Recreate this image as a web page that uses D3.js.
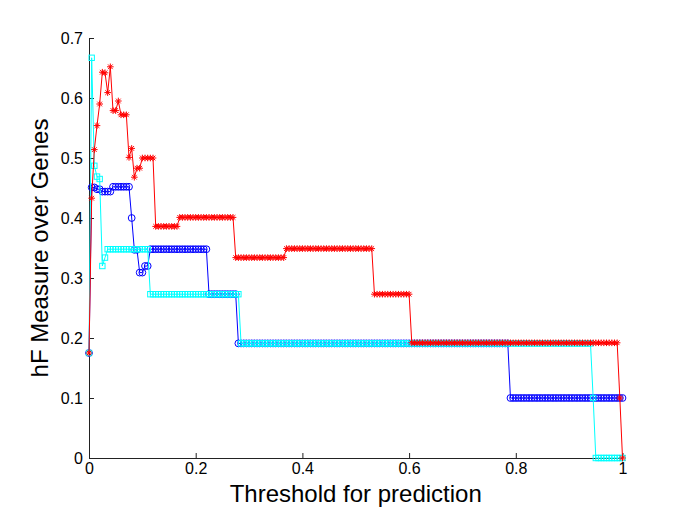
<!DOCTYPE html>
<html>
<head>
<meta charset="utf-8">
<script src="https://cdn.jsdelivr.net/npm/d3@7"></script>
<style>
  html, body { margin: 0; padding: 0; background: #fff; }
  svg { display: block; font-family: "Liberation Sans", Arial, Helvetica, sans-serif; }
</style>
</head>
<body>
<svg id="chart" width="685" height="514"></svg>
<script>
// ---- Data ----
const thresholds = [
  0,0.005,0.01,0.015,0.02,0.025,0.03,0.035,0.04,0.045,
  0.05,0.055,0.06,0.065,0.07,0.075,0.08,0.085,0.09,0.095,
  0.1,0.105,0.11,0.115,0.12,0.125,0.13,0.135,0.14,0.145,
  0.15,0.155,0.16,0.165,0.17,0.175,0.18,0.185,0.19,0.195,
  0.2,0.205,0.21,0.215,0.22,0.225,0.23,0.235,0.24,0.245,
  0.25,0.255,0.26,0.265,0.27,0.275,0.28,0.285,0.29,0.295,
  0.3,0.305,0.31,0.315,0.32,0.325,0.33,0.335,0.34,0.345,
  0.35,0.355,0.36,0.365,0.37,0.375,0.38,0.385,0.39,0.395,
  0.4,0.405,0.41,0.415,0.42,0.425,0.43,0.435,0.44,0.445,
  0.45,0.455,0.46,0.465,0.47,0.475,0.48,0.485,0.49,0.495,
  0.5,0.505,0.51,0.515,0.52,0.525,0.53,0.535,0.54,0.545,
  0.55,0.555,0.56,0.565,0.57,0.575,0.58,0.585,0.59,0.595,
  0.6,0.605,0.61,0.615,0.62,0.625,0.63,0.635,0.64,0.645,
  0.65,0.655,0.66,0.665,0.67,0.675,0.68,0.685,0.69,0.695,
  0.7,0.705,0.71,0.715,0.72,0.725,0.73,0.735,0.74,0.745,
  0.75,0.755,0.76,0.765,0.77,0.775,0.78,0.785,0.79,0.795,
  0.8,0.805,0.81,0.815,0.82,0.825,0.83,0.835,0.84,0.845,
  0.85,0.855,0.86,0.865,0.87,0.875,0.88,0.885,0.89,0.895,
  0.9,0.905,0.91,0.915,0.92,0.925,0.93,0.935,0.94,0.945,
  0.95,0.955,0.96,0.965,0.97,0.975,0.98,0.985,0.99,0.995,
  1
];

// red stars
const redValues = [
  0.175,0.433,0.514,0.554,0.590,0.643,0.642,0.609,0.652,0.579,
  0.579,0.595,0.572,0.572,0.572,0.501,0.516,0.468,0.483,0.483,
  0.500,0.500,0.500,0.500,0.500,0.386,0.386,0.386,0.386,0.386,
  0.386,0.386,0.386,0.386,0.401,0.401,0.401,0.401,0.401,0.401,
  0.401,0.401,0.401,0.401,0.401,0.401,0.401,0.401,0.401,0.401,
  0.401,0.401,0.401,0.401,0.401,0.334,0.334,0.334,0.334,0.334,
  0.334,0.334,0.334,0.334,0.334,0.334,0.334,0.334,0.334,0.334,
  0.334,0.334,0.334,0.334,0.349,0.349,0.349,0.349,0.349,0.349,
  0.349,0.349,0.349,0.349,0.349,0.349,0.349,0.349,0.349,0.349,
  0.349,0.349,0.349,0.349,0.349,0.349,0.349,0.349,0.349,0.349,
  0.349,0.349,0.349,0.349,0.349,0.349,0.349,0.273,0.273,0.273,
  0.273,0.273,0.273,0.273,0.273,0.273,0.273,0.273,0.273,0.273,
  0.273,0.192,0.192,0.192,0.192,0.192,0.192,0.192,0.192,0.192,
  0.192,0.192,0.192,0.192,0.192,0.192,0.192,0.192,0.192,0.192,
  0.192,0.192,0.192,0.192,0.192,0.192,0.192,0.192,0.192,0.192,
  0.192,0.192,0.192,0.192,0.192,0.192,0.192,0.192,0.192,0.192,
  0.192,0.192,0.192,0.192,0.192,0.192,0.192,0.192,0.192,0.192,
  0.192,0.192,0.192,0.192,0.192,0.192,0.192,0.192,0.192,0.192,
  0.192,0.192,0.192,0.192,0.192,0.192,0.192,0.192,0.192,0.192,
  0.192,0.192,0.192,0.192,0.192,0.192,0.192,0.192,0.192,0.100,
  0.000
];

// blue circles
const blueValues = [
  0.175,0.451,0.451,0.448,0.448,0.444,0.444,0.444,0.444,0.452,
  0.452,0.452,0.452,0.452,0.452,0.452,0.400,0.347,0.347,0.309,
  0.309,0.320,0.320,0.348,0.348,0.348,0.348,0.348,0.348,0.348,
  0.348,0.348,0.348,0.348,0.348,0.348,0.348,0.348,0.348,0.348,
  0.348,0.348,0.348,0.348,0.348,0.273,0.273,0.273,0.273,0.273,
  0.273,0.273,0.273,0.273,0.273,0.273,0.191,0.191,0.191,0.191,
  0.191,0.191,0.191,0.191,0.191,0.191,0.191,0.191,0.191,0.191,
  0.191,0.191,0.191,0.191,0.191,0.191,0.191,0.191,0.191,0.191,
  0.191,0.191,0.191,0.191,0.191,0.191,0.191,0.191,0.191,0.191,
  0.191,0.191,0.191,0.191,0.191,0.191,0.191,0.191,0.191,0.191,
  0.191,0.191,0.191,0.191,0.191,0.191,0.191,0.191,0.191,0.191,
  0.191,0.191,0.191,0.191,0.191,0.191,0.191,0.191,0.191,0.191,
  0.191,0.191,0.191,0.191,0.191,0.191,0.191,0.191,0.191,0.191,
  0.191,0.191,0.191,0.191,0.191,0.191,0.191,0.191,0.191,0.191,
  0.191,0.191,0.191,0.191,0.191,0.191,0.191,0.191,0.191,0.191,
  0.191,0.191,0.191,0.191,0.191,0.191,0.191,0.191,0.100,0.100,
  0.100,0.100,0.100,0.100,0.100,0.100,0.100,0.100,0.100,0.100,
  0.100,0.100,0.100,0.100,0.100,0.100,0.100,0.100,0.100,0.100,
  0.100,0.100,0.100,0.100,0.100,0.100,0.100,0.100,0.100,0.100,
  0.100,0.100,0.100,0.100,0.100,0.100,0.100,0.100,0.100,0.100,
  0.100
];

// cyan squares
const cyanValues = [
  0.175,0.667,0.487,0.469,0.465,0.320,0.334,0.348,0.348,0.348,
  0.348,0.348,0.348,0.348,0.348,0.348,0.348,0.348,0.348,0.348,
  0.348,0.348,0.348,0.273,0.273,0.273,0.273,0.273,0.273,0.273,
  0.273,0.273,0.273,0.273,0.273,0.273,0.273,0.273,0.273,0.273,
  0.273,0.273,0.273,0.273,0.273,0.273,0.273,0.273,0.273,0.273,
  0.273,0.273,0.273,0.273,0.273,0.273,0.273,0.191,0.191,0.191,
  0.191,0.191,0.191,0.191,0.191,0.191,0.191,0.191,0.191,0.191,
  0.191,0.191,0.191,0.191,0.191,0.191,0.191,0.191,0.191,0.191,
  0.191,0.191,0.191,0.191,0.191,0.191,0.191,0.191,0.191,0.191,
  0.191,0.191,0.191,0.191,0.191,0.191,0.191,0.191,0.191,0.191,
  0.191,0.191,0.191,0.191,0.191,0.191,0.191,0.191,0.191,0.191,
  0.191,0.191,0.191,0.191,0.191,0.191,0.191,0.191,0.191,0.191,
  0.191,0.191,0.191,0.191,0.191,0.191,0.191,0.191,0.191,0.191,
  0.191,0.191,0.191,0.191,0.191,0.191,0.191,0.191,0.191,0.191,
  0.191,0.191,0.191,0.191,0.191,0.191,0.191,0.191,0.191,0.191,
  0.191,0.191,0.191,0.191,0.191,0.191,0.191,0.191,0.191,0.191,
  0.191,0.191,0.191,0.191,0.191,0.191,0.191,0.191,0.191,0.191,
  0.191,0.191,0.191,0.191,0.191,0.191,0.191,0.191,0.191,0.191,
  0.191,0.191,0.191,0.191,0.191,0.191,0.191,0.191,0.191,0.100,
  0.000,0.000,0.000,0.000,0.000,0.000,0.000,0.000,0.000,0.000,
  0.000
];

const xTicks = [0, 0.2, 0.4, 0.6, 0.8, 1];
const xTickLabels = ["0", "0.2", "0.4", "0.6", "0.8", "1"];
const yTicks = [0, 0.1, 0.2, 0.3, 0.4, 0.5, 0.6, 0.7];
const yTickLabels = ["0", "0.1", "0.2", "0.3", "0.4", "0.5", "0.6", "0.7"];
const xLabel = "Threshold for prediction";
const yLabel = "hF Measure over Genes";

// ---- Layout ----
const svg = d3.select("#chart");
const mLeft = 89, mRight = 622.5, mTop = 38, mBottom = 458;
const x = d3.scaleLinear().domain([0, 1]).range([mLeft, mRight]);
const y = d3.scaleLinear().domain([0, 0.7]).range([mBottom, mTop]);

// axes (MATLAB style: ticks inward, box off)
const xAxis = d3.axisBottom(x).tickValues(xTicks)
  .tickFormat((d, i) => xTickLabels[i]).tickSizeInner(-5).tickSizeOuter(0).tickPadding(5);
const yAxis = d3.axisLeft(y).tickValues(yTicks)
  .tickFormat((d, i) => yTickLabels[i]).tickSizeInner(-5).tickSizeOuter(0).tickPadding(6);

const gx = svg.append("g").attr("transform", `translate(0,${mBottom})`).call(xAxis);
const gy = svg.append("g").attr("transform", `translate(${mLeft},0)`).call(yAxis);
[gx, gy].forEach(g => {
  g.selectAll("path.domain").attr("stroke", "#222").attr("stroke-width", 1);
  g.selectAll(".tick line").attr("stroke", "#222").attr("stroke-width", 1);
  g.selectAll(".tick text").attr("fill", "#000").style("font-size", "16px")
    .style("font-family", '"Liberation Sans", Arial, sans-serif');
});

// series
const line = d3.line().x((d, i) => x(thresholds[i])).y(d => y(d));

function starPath(s) {
  const a = s * 0.7071;
  return `M${-s},0H${s}M0,${-s}V${s}M${-a},${-a}L${a},${a}M${-a},${a}L${a},${-a}`;
}

const series = [
  { values: blueValues, color: "#0000ff", marker: "circle" },
  { values: cyanValues, color: "#00ffff", marker: "square" },
  { values: redValues, color: "#ff0000", marker: "star" }
];

series.forEach(s => {
  const g = svg.append("g");
  g.append("path").datum(s.values)
    .attr("d", line).attr("fill", "none")
    .attr("stroke", s.color).attr("stroke-width", 1);
  const m = g.selectAll("g.m").data(s.values).join("g")
    .attr("transform", (d, i) => `translate(${x(thresholds[i])},${y(d)})`);
  if (s.marker === "circle") {
    m.append("circle").attr("r", 3.4).attr("fill", "none")
      .attr("stroke", s.color).attr("stroke-width", 1);
  } else if (s.marker === "square") {
    m.append("rect").attr("x", -2.7).attr("y", -2.7).attr("width", 5.4).attr("height", 5.4)
      .attr("fill", "none").attr("stroke", s.color).attr("stroke-width", 1);
  } else {
    m.append("path").attr("d", starPath(3.3)).attr("fill", "none")
      .attr("stroke", s.color).attr("stroke-width", 1);
  }
});

// axis titles
svg.append("text")
  .attr("x", (mLeft + mRight) / 2).attr("y", 502)
  .attr("text-anchor", "middle").style("font-size", "24px").attr("fill", "#000")
  .text(xLabel);
svg.append("text")
  .attr("transform", `translate(48,${(mTop + mBottom) / 2}) rotate(-90)`)
  .attr("text-anchor", "middle").style("font-size", "24px").attr("fill", "#000")
  .text(yLabel);
</script>
</body>
</html>
